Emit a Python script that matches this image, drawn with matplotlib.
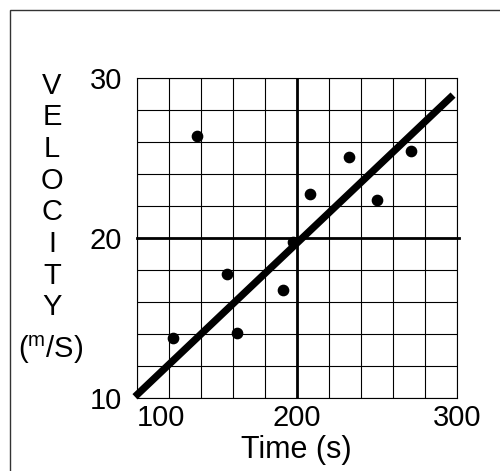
import matplotlib
matplotlib.use("Agg")
import matplotlib.pyplot as plt
from matplotlib.patches import Rectangle
import numpy as np

# data
time_s = [122.9, 137.9, 156.3, 162.9, 191.3, 197.5, 208.3, 232.9, 250.0, 271.4]
velocity = [13.75, 26.4, 17.75, 14.1, 16.8, 19.8, 22.75, 25.1, 22.4, 25.45]
fit_x = [98.9, 297.7]
fit_y = [10.1, 28.95]
x_ticks = [100, 200, 300]
y_ticks = [10, 20, 30]
y_letters = list("VELOCITY")

plt.rcParams['font.family'] = ['Liberation Sans', 'DejaVu Sans']
plt.rcParams['mathtext.fontset'] = 'custom'
plt.rcParams['mathtext.rm'] = 'Liberation Sans'

fig = plt.figure(figsize=(5.0, 4.71), dpi=100)
ax = fig.add_axes([0.2734, 0.1543, 0.64, 0.6795])

ax.set_xlim(100, 300)
ax.set_ylim(10, 30)

# grid: minor lines every 20 s / 2 m/s
ax.set_xticks(np.arange(100, 301, 20), minor=True)
ax.set_yticks(np.arange(10, 31, 2), minor=True)
ax.set_xticks(x_ticks)
ax.set_yticks(y_ticks)
ax.grid(which='both', color='black', linewidth=0.8)
ax.tick_params(which='both', length=0)
ax.tick_params(axis='y', labelsize=21, pad=10.5)
ax.tick_params(axis='x', labelsize=21, pad=4)
ax.set_xticklabels([str(t) for t in x_ticks])
ax.set_yticklabels([str(t) for t in y_ticks])
ax.get_xticklabels()[0].set_ha('left')
for s in ax.spines.values():
    s.set_linewidth(0.8)

# heavy reference lines at the middle
ax.axvline(200, color='black', linewidth=2.0, zorder=2)
ax.axhline(20, xmax=1.008, color='black', linewidth=2.0, zorder=2, clip_on=False)

ax.plot(time_s, velocity, 'o', color='black', markersize=7.4, zorder=3)
ax.plot(fit_x, fit_y, color='black', linewidth=5.2, solid_capstyle='butt',
        zorder=4, clip_on=False)

ax.set_xlabel('Time (s)', fontsize=22, labelpad=2)

# vertical stacked axis title
for i, ch in enumerate(y_letters):
    fig.text(52 / 500, 1 - (85.5 + 31.7 * i) / 471, ch, fontsize=21,
             ha='center', va='center')
fig.text(51 / 500, 1 - 350 / 471, r'$(^{\rm m}/{\rm S})$', fontsize=21,
         ha='center', va='center')

# outer frame
fig.patches.append(Rectangle((10 / 500, -0.1), 1.2, 1 - 10 / 471 + 0.1,
                             transform=fig.transFigure, fill=False,
                             edgecolor='#333333', linewidth=1.0))

fig.savefig('out.png', dpi=100)
